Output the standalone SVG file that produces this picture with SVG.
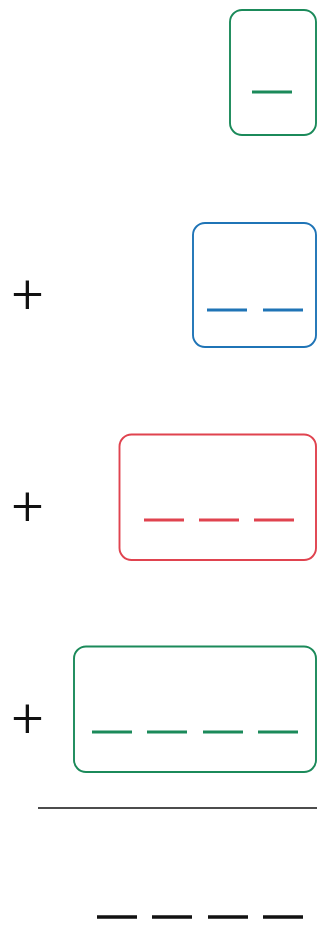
<svg xmlns="http://www.w3.org/2000/svg" width="320" height="925" viewBox="0 0 320 925">
<style>
.box{fill:none;stroke-width:1.9}
.g{stroke:#1b8a5a}
.b{stroke:#1f74b6}
.r{stroke:#e0434f}
.d{stroke-width:3;stroke-linecap:butt;fill:none}
.k{stroke:#111}
.plus{font-family:Roboto,"Liberation Sans",sans-serif;font-weight:300;font-size:56px;fill:#111;text-anchor:middle}
</style>
<rect width="320" height="925" fill="#fff"/>
<g id="term1">
<rect class="box g" x="230" y="10" width="86" height="125" rx="12"/>
<line class="d g" x1="252" y1="92" x2="292" y2="92"/>
</g>
<g id="term2">
<text class="plus" x="27.5" y="313">+</text>
<rect class="box b" x="193" y="223" width="123" height="124" rx="12"/>
<path class="d b" d="M207 310H247M263 310H303"/>
</g>
<g id="term3">
<text class="plus" x="27.5" y="525">+</text>
<rect class="box r" x="119.5" y="434.5" width="196.5" height="125.5" rx="12"/>
<path class="d r" d="M144 520H184M199 520H239M254 520H294"/>
</g>
<g id="term4">
<text class="plus" x="27.5" y="737">+</text>
<rect class="box g" x="74" y="646.5" width="242" height="125.5" rx="12"/>
<path class="d g" d="M92 732H132M147 732H187M203 732H243M258 732H298"/>
</g>
<g id="connectors">
<line x1="38" y1="808" x2="317" y2="808" stroke="#111" stroke-width="1.5"/>
</g>
<g id="result">
<path class="d k" style="stroke-width:3.5" d="M97 917H137M152 917H192M208 917H248M263 917H303"/>
</g>
</svg>
